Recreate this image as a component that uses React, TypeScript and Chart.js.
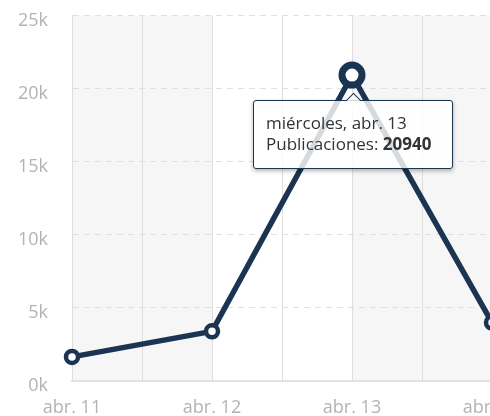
import React, { useEffect, useRef, useState } from "react";
import { Chart, registerables } from "chart.js";

Chart.register(...registerables);

const categories = ["abr. 11", "abr. 12", "abr. 13", "abr. 14"];
const fullDates = ["lunes, abr. 11", "martes, abr. 12", "miércoles, abr. 13", "jueves, abr. 14"];
const publicaciones = [1650, 3400, 20940, 4000];
const seriesLabel = "Publicaciones";
const activeIndex = 2;
const shadedBands: [number, number][] = [[0, 1], [2, 3]];
const yMax = 25000;
const yStep = 5000;

const lineColor = "#1a3451";
const tickColor = "#b3b3b3";
const fontFamily = "'Open Sans', Lato, sans-serif";

const bandsPlugin = {
  id: "bands",
  beforeDraw(chart: any) {
    const { ctx, chartArea, scales } = chart;
    const x = scales.x;
    ctx.save();
    ctx.fillStyle = "#f6f6f6";
    for (const [a, b] of shadedBands) {
      const x0 = x.getPixelForValue(a);
      const x1 = x.getPixelForValue(b);
      ctx.fillRect(x0, chartArea.top, x1 - x0, chartArea.bottom - chartArea.top);
    }
    ctx.restore();
  },
};

export default function App() {
  const canvasRef = useRef<HTMLCanvasElement | null>(null);
  const [tip, setTip] = useState<{ x: number; y: number } | null>(null);

  useEffect(() => {
    if (!canvasRef.current) return;
    const chart = new Chart(canvasRef.current, {
      type: "line",
      data: {
        datasets: [
          {
            label: seriesLabel,
            data: publicaciones.map((v, i) => ({ x: i, y: v })),
            borderColor: lineColor,
            borderWidth: 5.5,
            tension: 0,
            pointRadius: 6,
            pointBorderWidth: 4.5,
            pointBackgroundColor: "#ffffff",
            pointBorderColor: lineColor,
            pointHoverRadius: 10,
            pointHoverBorderWidth: 7,
            pointHoverBackgroundColor: "#ffffff",
            pointHoverBorderColor: lineColor,
            clip: false as any,
          },
        ],
      },
      options: {
        animation: false,
        responsive: true,
        maintainAspectRatio: false,
        events: [],
        layout: { padding: { top: 0, right: 16, left: 0, bottom: 0 } },
        plugins: {
          legend: { display: false },
          tooltip: { enabled: false },
        },
        scales: {
          x: {
            type: "linear",
            min: 0,
            max: 3.8,
            afterFit: (s: any) => {
              s.height = 35;
            },
            grid: { color: "#dedede", lineWidth: 1, drawTicks: false },
            border: { display: true, color: "#e2e2e2", width: 2 },
            ticks: {
              stepSize: 0.5,
              autoSkip: false,
              maxRotation: 0,
              padding: 16,
              color: tickColor,
              font: { family: fontFamily, size: 18 },
              callback: (v: any) => (Number.isInteger(v) && categories[v] ? categories[v] : ""),
            },
          },
          y: {
            min: 0,
            max: yMax,
            afterFit: (s: any) => {
              s.width = 72;
            },
            grid: { color: "#e0e0e0", lineWidth: 1, drawTicks: false },
            border: { display: true, color: "#dedede", dash: [6, 5] },
            ticks: {
              stepSize: yStep,
              padding: 24,
              labelOffset: 5,
              color: tickColor,
              font: { family: fontFamily, size: 18 },
              callback: (v: any) => `${Number(v) / 1000}k`,
            },
          },
        },
      },
      plugins: [bandsPlugin],
    });
    chart.setActiveElements([{ datasetIndex: 0, index: activeIndex }]);
    chart.update();
    const el: any = chart.getDatasetMeta(0).data[activeIndex];
    setTip({ x: el.x, y: el.y });
    return () => chart.destroy();
  }, []);

  return (
    <div style={{ position: "fixed", left: 0, top: 0, width: 490, height: 416, overflow: "hidden", background: "#fff" }}>
      <div style={{ position: "absolute", left: 0, top: -19, width: 620, height: 435 }}>
        <canvas ref={canvasRef} />
        {tip && (
          <div
            style={{
              position: "absolute",
              left: tip.x - 99,
              top: tip.y + 25,
              width: 200,
              height: 69,
              boxSizing: "border-box",
              padding: "11px 12px",
              background: "rgba(255,255,255,0.82)",
              border: `1px solid ${lineColor}`,
              borderRadius: 3,
              boxShadow: "0 2px 4px rgba(0,0,0,0.3)",
              fontFamily,
              fontSize: 17,
              lineHeight: "21px",
              color: "#333",
              whiteSpace: "nowrap",
            }}
          >
            <div
              style={{
                position: "absolute",
                left: 94,
                top: -6,
                width: 10,
                height: 10,
                background: "rgba(255,255,255,0.82)",
                borderLeft: `1px solid ${lineColor}`,
                borderTop: `1px solid ${lineColor}`,
                transform: "rotate(45deg)",
              }}
            />
            <div>{fullDates[activeIndex]}</div>
            <div>
              {seriesLabel}: <b>{publicaciones[activeIndex]}</b>
            </div>
          </div>
        )}
      </div>
    </div>
  );
}
